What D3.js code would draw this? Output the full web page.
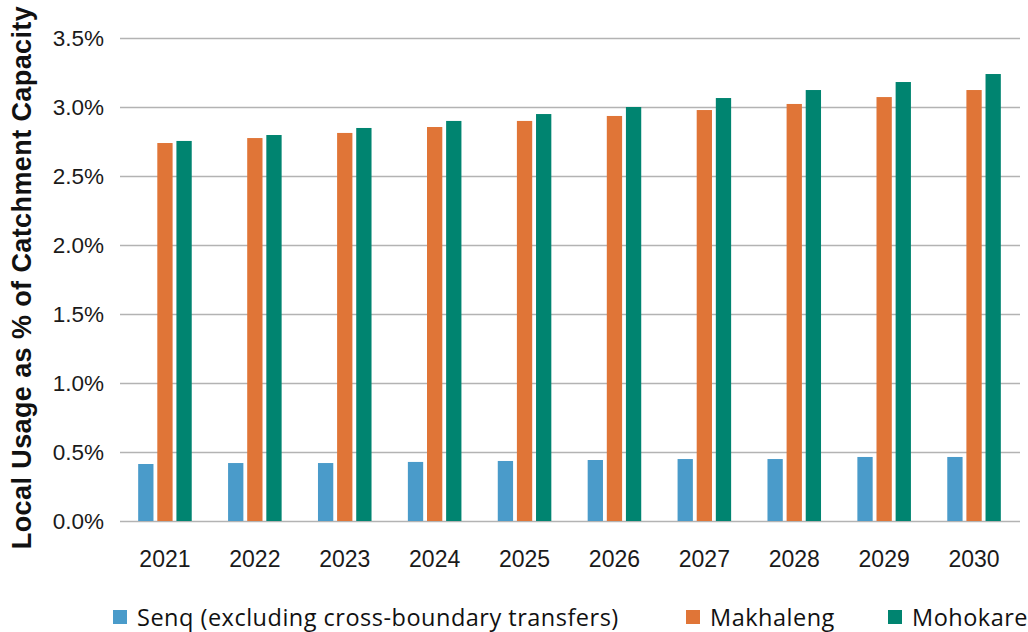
<!DOCTYPE html>
<html>
<head>
<meta charset="utf-8">
<script src="https://cdn.jsdelivr.net/npm/d3@7"></script>
<style>
  html, body { margin: 0; padding: 0; background: #fff; }
  svg { display: block; }
</style>
</head>
<body>
<svg id="chart" width="1028" height="632"></svg>
<script>
// Local usage as a share of catchment capacity, by year and catchment
const years = ["2021", "2022", "2023", "2024", "2025", "2026", "2027", "2028", "2029", "2030"];
const seriesNames = ["Senq (excluding cross-boundary transfers)", "Makhaleng", "Mohokare"];
const senq      = [0.413, 0.420, 0.420, 0.428, 0.435, 0.442, 0.449, 0.449, 0.464, 0.464];
const makhaleng = [2.739, 2.775, 2.812, 2.855, 2.899, 2.935, 2.978, 3.022, 3.072, 3.123];
const mohokare  = [2.754, 2.797, 2.848, 2.899, 2.949, 3.000, 3.065, 3.123, 3.181, 3.239];
const yTicks = [0, 0.5, 1.0, 1.5, 2.0, 2.5, 3.0, 3.5];
const colors = ["#4a9bca", "#e07537", "#008470"];

const seriesValues = [senq, makhaleng, mohokare];

const svg = d3.select("#chart");
const margin = { left: 120, right: 9, top: 38, bottom: 111 };
const W = 1028, H = 632;

const x = d3.scaleBand().domain(years).range([margin.left, W - margin.right]).paddingInner(0).paddingOuter(0);
const xs = d3.scaleBand().domain(d3.range(seriesNames.length)).range([0, x.bandwidth()]).paddingInner(0.2).paddingOuter(0.95);
const y = d3.scaleLinear().domain([0, 3.5]).range([H - margin.bottom, margin.top]);

const tickFont = "'Liberation Sans', Arial, sans-serif";
const legendFont = "'Open Sans', 'Noto Sans', sans-serif";

// Gridlines and y tick labels
const yAxis = d3.axisLeft(y).tickValues(yTicks).tickFormat(d => d.toFixed(1) + "%")
  .tickSize(-(W - margin.left - margin.right + 1)).tickPadding(16);
const gy = svg.append("g").attr("transform", `translate(${margin.left},0)`).call(yAxis);
gy.select(".domain").remove();
gy.selectAll(".tick line").attr("stroke", "#b3b3b3").attr("stroke-width", 1.5);
gy.selectAll(".tick text").attr("fill", "#1a1a1a").attr("font-size", 22.5).attr("font-family", tickFont);

// Bars
const groups = svg.append("g").selectAll("g").data(seriesValues).join("g")
  .attr("fill", (d, i) => colors[i]);
groups.each(function(vals, si) {
  d3.select(this).selectAll("rect").data(vals).join("rect")
    .attr("x", (v, i) => x(years[i]) + xs(si))
    .attr("width", xs.bandwidth())
    .attr("y", v => y(v))
    .attr("height", v => y(0) - y(v));
});

// X axis labels
const xAxis = d3.axisBottom(x).tickSize(0).tickPadding(30);
const gx = svg.append("g").attr("transform", `translate(0,${y(0)})`).call(xAxis);
gx.select(".domain").remove();
gx.selectAll(".tick text").attr("fill", "#1a1a1a").attr("font-size", 23).attr("font-family", tickFont);

// Y axis title
svg.append("text")
  .attr("transform", `translate(31,${(y(0) + y(3.5)) / 2 - 2}) rotate(-90)`)
  .attr("text-anchor", "middle")
  .attr("font-family", tickFont)
  .attr("font-weight", "bold")
  .attr("font-size", 27)
  .attr("letter-spacing", 0.4)
  .attr("fill", "#111")
  .text("Local Usage as % of Catchment Capacity");

// Legend
const legendX = [113, 686, 888];
const lg = svg.append("g").selectAll("g").data(seriesNames).join("g")
  .attr("transform", (d, i) => `translate(${legendX[i]},610)`);
lg.append("rect").attr("width", 14).attr("height", 14).attr("fill", (d, i) => colors[i]);
lg.append("text").attr("x", 24).attr("y", 16)
  .attr("font-family", legendFont).attr("font-size", 23.5).attr("letter-spacing", 0.5).attr("fill", "#111")
  .text(d => d);
</script>
</body>
</html>
